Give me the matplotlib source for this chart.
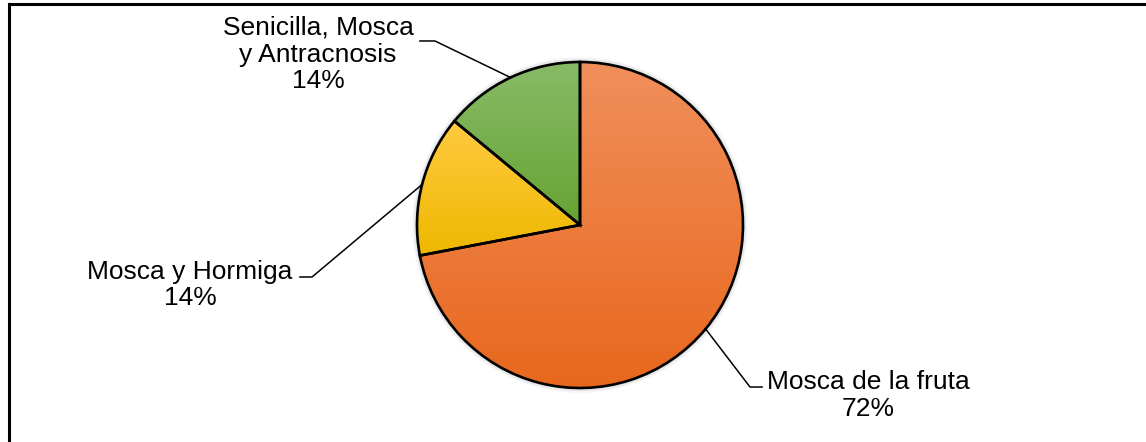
import numpy as np
import matplotlib.pyplot as plt
from matplotlib.colors import LinearSegmentedColormap
from matplotlib.patches import Circle

plt.rcParams['font.family'] = ['Liberation Sans', 'DejaVu Sans']

# Datos
etiquetas = ["Mosca de la fruta", "Mosca y Hormiga", "Senicilla, Mosca\ny Antracnosis"]
porcentajes = [72, 14, 14]
colores_arriba = ["#F18F5C", "#FFCA40", "#89BB68"]
colores_abajo = ["#E8671C", "#EEB800", "#66A332"]
titulo = "Principales plagas que se presentan en el cultivo de guayaba (%)"

# Posiciones de las etiquetas (unidades del radio) y quiebre de las guías
pos_texto = [(1.77, -1.046), (-2.393, -0.368), (-1.607, 1.046)]
pos_codo = [(1.043, -0.994), (-1.644, -0.319), (-0.890, 1.129)]
pos_fin = [(1.117, -0.994), (-1.718, -0.319), (-0.982, 1.129)]

W, H = 1146, 442
cx, cy, R = 580, 442 - 225, 163  # centro y radio en pixeles

fig = plt.figure(figsize=(W / 100, H / 100), dpi=100)
ax = fig.add_axes([0, 0, 1, 1])

# sombra suave
for r, a in [(1.03, 0.06), (1.02, 0.10), (1.01, 0.15)]:
    ax.add_patch(Circle((0, 0), r, color="#777777", alpha=a, lw=0, zorder=0))

wedges, _ = ax.pie(porcentajes, startangle=90, counterclock=False, radius=1,
                   wedgeprops=dict(edgecolor="black", linewidth=1.9, facecolor="none"),
                   frame=True)

grad = np.linspace(1, 0, 256).reshape(-1, 1)
for w, c0, c1 in zip(wedges, colores_arriba, colores_abajo):
    v = w.get_path().vertices
    cmap = LinearSegmentedColormap.from_list("g", [c1, c0])
    im = ax.imshow(grad, cmap=cmap, aspect="auto", zorder=1,
                   extent=[v[:, 0].min(), v[:, 0].max(), v[:, 1].min(), v[:, 1].max()])
    im.set_clip_path(w)
    w.set_zorder(3)

# etiquetas con guias
for w, txt, p, tp, tc, tf in zip(wedges, etiquetas, porcentajes, pos_texto, pos_codo, pos_fin):
    ang = np.deg2rad((w.theta1 + w.theta2) / 2)
    ex, ey = np.cos(ang), np.sin(ang)
    ax.plot([ex, tc[0], tf[0]], [ey, tc[1], tf[1]], color="black", lw=1.1, zorder=4)
    ax.text(tp[0], tp[1], f"{txt}\n{p}%", ha="center", va="center",
            multialignment="center", fontsize=19, linespacing=1.15, color="black")

ax.set_xlim(-cx / R, (W - cx) / R)
ax.set_ylim(-cy / R, (H - cy) / R)
ax.set_aspect("auto")
ax.axis("off")

# Marco (recortado como en la imagen original)
fig.add_artist(plt.Line2D([9 / W, 9 / W], [0, 1 - 4 / H], color="black", lw=2.2,
                          transform=fig.transFigure))
fig.add_artist(plt.Line2D([9 / W, 1], [1 - 4 / H, 1 - 4 / H], color="black", lw=2.2,
                          transform=fig.transFigure))

# Titulo cortado por el borde superior
fig.text(1165 / W, 1 + 7 / H, titulo, ha="right", va="baseline",
         fontsize=19, fontweight="bold")

fig.savefig("out.png", dpi=100)
